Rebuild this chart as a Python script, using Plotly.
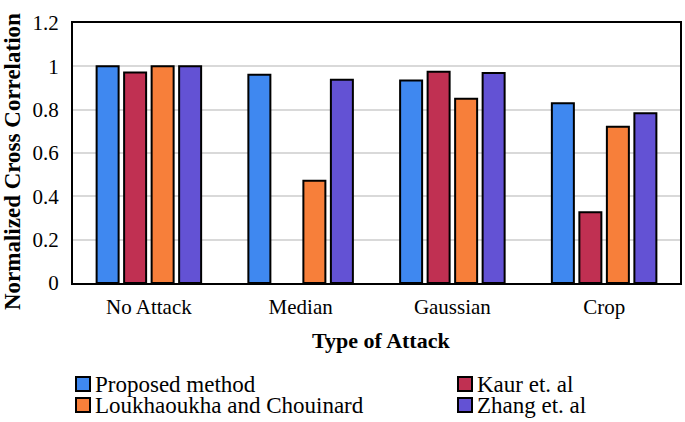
import plotly.graph_objects as go

categories = ["No Attack", "Median", "Gaussian", "Crop"]
proposed = [1.0, 0.961, 0.935, 0.830]
kaur = [0.972, None, 0.975, 0.327]
loukhaoukha = [1.0, 0.472, 0.850, 0.721]
zhang = [1.0, 0.938, 0.969, 0.784]

series = [
    ("Proposed method", proposed, "#3f88f0"),
    ("Kaur et. al", kaur, "#c03052"),
    ("Loukhaoukha and Chouinard", loukhaoukha, "#f77f3a"),
    ("Zhang et. al", zhang, "#6352d4"),
]

FONT = "Liberation Serif, Times New Roman, serif"
W, H = 685, 422
L, R, T, B = 73, 5, 23, 139


def px(x):
    return (x - L) / (W - L - R)


def py(y):
    return (H - B - y) / (H - T - B)


fig = go.Figure()
for name, vals, color in series:
    fig.add_trace(go.Bar(
        x=categories,
        y=vals,
        name=name,
        marker=dict(color=color, line=dict(color="black", width=2)),
        showlegend=False,
    ))

# legend drawn by hand: two columns, two rows
legend_pos = [(76, 384), (458, 384), (76, 405), (458, 405)]
for (name, _, color), (lx, ly) in zip(series, legend_pos):
    fig.add_shape(
        type="rect", xref="paper", yref="paper",
        x0=px(lx), x1=px(lx + 14), y0=py(ly + 7), y1=py(ly - 7),
        fillcolor=color, line=dict(color="black", width=2),
    )
    fig.add_annotation(
        text=name, xref="paper", yref="paper",
        x=px(lx + 17), y=py(ly), xanchor="left", yanchor="middle",
        showarrow=False, font=dict(family=FONT, size=23, color="black"),
    )

fig.add_annotation(
    text="<b>Type of Attack</b>", xref="paper", yref="paper",
    x=px(381), y=py(340), xanchor="center", yanchor="middle",
    showarrow=False, font=dict(family=FONT, size=22, color="black"),
)
fig.add_annotation(
    text="<b>Normalized Cross Correlation</b>", xref="paper", yref="paper",
    x=px(12), y=py(162), xanchor="center", yanchor="middle", textangle=-90,
    showarrow=False, font=dict(family=FONT, size=23, color="black"),
)

fig.update_layout(
    width=W,
    height=H,
    margin=dict(l=L, r=R, t=T, b=B, autoexpand=False),
    paper_bgcolor="white",
    plot_bgcolor="white",
    font=dict(family=FONT, size=21, color="black"),
    barmode="group",
    bargap=0.275,
    bargroupgap=0.2,
    showlegend=False,
)
fig.update_xaxes(
    showline=True, linecolor="black", linewidth=2, mirror=True,
    ticks="", tickfont=dict(size=21), ticklabelstandoff=4,
    automargin=False,
)
fig.update_yaxes(
    range=[0, 1.2],
    dtick=0.2,
    tickformat="~g",
    showline=True, linecolor="black", linewidth=2, mirror=True,
    showgrid=True, gridcolor="#d9d9d9", gridwidth=2,
    zeroline=False,
    ticks="", tickfont=dict(size=21), ticklabelstandoff=8,
    automargin=False,
)

# drop the default body margin so the figure sits at the page's top-left corner
fig.write_html(
    "out.html",
    config={"displayModeBar": False},
    post_script="document.body.style.margin='0';",
)
